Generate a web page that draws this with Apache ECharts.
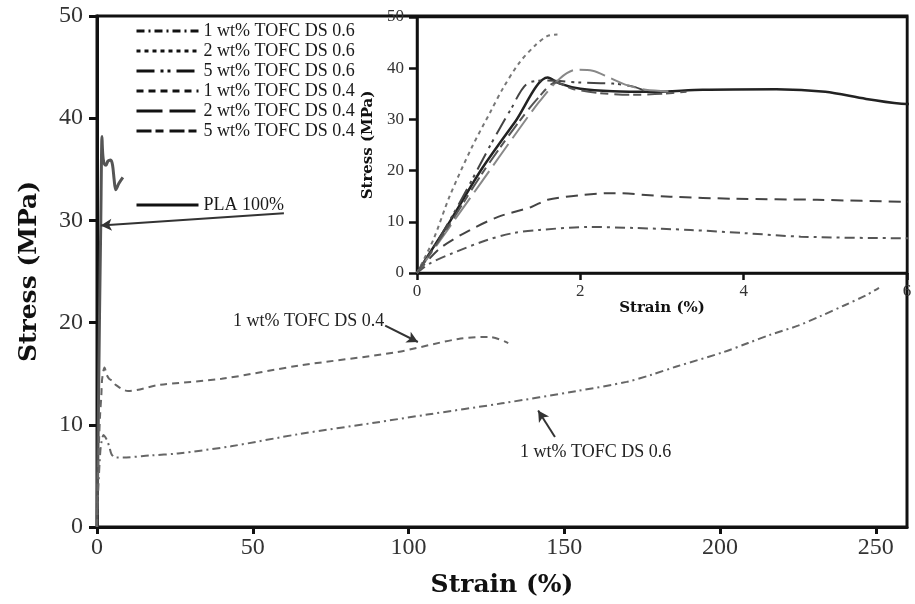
<!DOCTYPE html>
<html>
<head>
<meta charset="utf-8">
<script src="https://cdn.jsdelivr.net/npm/echarts@6/dist/echarts.min.js"></script>
<style>
  html, body { margin: 0; padding: 0; background: #fff; }
  #chart { width: 915px; height: 604px; }
</style>
</head>
<body>
<div id="chart"></div>
<script>
// stress-strain curves, points are [strain %, stress MPa]
const pla100 = [[0,0],[0.2,5],[0.4,10],[0.8,20.5],[1.2,29.5],[1.6,38.2],[1.75,37],[2.0,36],[2.4,35.5],[2.9,35.4],
  [3.5,35.8],[4.4,35.9],[5.0,35.4],[5.5,34],[6.0,33],[7.0,33.6],[8.3,34.2]]
const oneWt06 = [[0,0],[0.16,1.9],[0.44,3.9],[0.85,6.4],[1.18,7.8],[1.5,8.4],[2.1,9.0],[2.65,8.8],[3.35,8.4],[4.0,7.8],
  [4.7,7.1],[6,6.8],[8.3,6.8],[17,7.0],[26,7.2],[43,7.9],[65,9.1],[89,10.2],[106,11],[130,12.1],[154,13.3],[170,14.2],
  [178,14.9],[186,15.7],[201,17.1],[209,18],[216,18.8],[225,19.7],[232,20.6],[240,21.7],[247,22.7],[251,23.4]]
const twoWt06 = [[0,0],[0.2,6.5],[0.4,15],[0.67,24.5],[0.9,31.5],[1.05,36],[1.25,41],[1.45,44.5],[1.6,46.3],[1.72,46.6]]
const fiveWt06 = [[0,0],[0.3,7.5],[0.6,16],[0.9,25],[1.15,32],[1.35,37],[1.6,37.6],[2.0,37.2],[2.4,37],[2.65,36.4],[2.8,35.5]]
const oneWt04 = [[0,0],[0.28,4.8],[0.65,8.4],[1.0,11],[1.4,12.9],[1.6,14.3],[2.0,15.2],[2.4,15.6],[3.1,14.9],[3.9,14.5],
  [4.9,14.3],[6,13.9],[10,13.3],[20,13.9],[40,14.5],[65,15.8],[96,17.1],[116,18.4],[126,18.6],[132,18.0]]
const twoWt04 = [[0,0],[0.4,9],[0.8,18],[1.2,27],[1.5,33.5],[1.75,38],[1.95,39.7],[2.15,39.5],[2.35,38.2],[2.55,36.8],[2.8,35.8],[3.1,35.5]]
const fiveWt04 = [[0,0],[0.4,9.5],[0.8,19.5],[1.2,28.5],[1.5,34.5],[1.7,37.2],[1.9,36],[2.2,35.2],[2.6,34.8],[3.0,35],[3.3,35.4]]

const legendNames = ['1 wt% TOFC DS 0.6','2 wt% TOFC DS 0.6','5 wt% TOFC DS 0.6','1 wt% TOFC DS 0.4','2 wt% TOFC DS 0.4','5 wt% TOFC DS 0.4']
const plaName = 'PLA 100%'

// arrows: [from, to] in main-plot data units
const arrows = [
  [[60,30.7],[1.2,29.5]],
  [[92.5,19.7],[103,18.1]],
  [[147,8.8],[141.6,11.4]],
]

const serif = '"Liberation Serif", "Times New Roman", serif'
const boldSerif = '"DejaVu Serif", serif'

const dashes = {
  '1 wt% TOFC DS 0.6': [10,5,3,5],
  '2 wt% TOFC DS 0.6': [4,4],
  '5 wt% TOFC DS 0.6': [18,6,3,4,3,6],
  '1 wt% TOFC DS 0.4': [12,7],
  '2 wt% TOFC DS 0.4': [26,7],
  '5 wt% TOFC DS 0.4': [15,4,8,6],
}

function line(name, data, grid, color, extra) {
  return Object.assign({
    name, type: 'line', data,
    xAxisIndex: grid, yAxisIndex: grid,
    symbol: 'none', smooth: 0.3, clip: true,
    lineStyle: {color, width: 2, type: dashes[name] || 'solid'},
    itemStyle: {color},
    emphasis: {disabled: true},
  }, extra || {})
}

function axisX(gridIndex, max, interval, fontSize, name, nameSize, nameGap, lw, margin) {
  return {
    type: 'value', gridIndex, min: 0, max, interval,
    name, nameLocation: 'middle', nameGap,
    nameTextStyle: {fontFamily: boldSerif, fontWeight: 'bold', fontSize: nameSize, color: '#111'},
    axisLine: {show: true, onZero: false, lineStyle: {color: '#111', width: lw}},
    axisTick: {show: true, inside: false, length: 7, lineStyle: {color: '#111', width: lw}},
    axisLabel: {fontFamily: serif, fontSize, color: '#333', margin, showMaxLabel: max % interval === 0},
    splitLine: {show: false},
  }
}
function axisY(gridIndex, fontSize, name, nameSize, nameGap, lw, margin) {
  return {
    type: 'value', gridIndex, min: 0, max: 50, interval: 10,
    name, nameLocation: 'middle', nameGap,
    nameTextStyle: {fontFamily: boldSerif, fontWeight: 'bold', fontSize: nameSize, color: '#111'},
    axisLine: {show: true, onZero: false, lineStyle: {color: '#111', width: lw}},
    axisTick: {show: true, inside: false, length: 8, lineStyle: {color: '#111', width: lw}},
    axisLabel: {fontFamily: serif, fontSize, color: '#333', margin},
    splitLine: {show: false},
  }
}

const legendBase = {
  orient: 'vertical', left: 135, padding: 0,
  itemWidth: 62, itemHeight: 14, itemGap: 2,
  itemStyle: {opacity: 0},
  lineStyle: {color: '#111', width: 3},
  textStyle: {fontFamily: serif, fontSize: 18, color: '#1a1a1a', lineHeight: 18},
  selectedMode: false,
}

const chart = echarts.init(document.getElementById('chart'))
chart.setOption({
  animation: false,
  backgroundColor: '#fff',
  grid: [
    {left: 97, right: 8, top: 16, bottom: 77, show: true, borderColor: '#111', borderWidth: 3, backgroundColor: 'transparent'},
    {left: 417, right: 8, top: 17, bottom: 331, show: true, borderColor: '#111', borderWidth: 2.5, backgroundColor: '#fff'},
  ],
  xAxis: [
    axisX(0, 260, 50, 24, 'Strain (%)', 25, 46, 3, 9),
    axisX(1, 6, 2, 17, 'Strain (%)', 15, 22, 2.5, 10),
  ],
  yAxis: [
    axisY(0, 24, 'Stress (MPa)', 25, 55, 3, 14),
    axisY(1, 17, 'Stress (MPa)', 15, 27, 2.5, 13),
  ],
  legend: [
    Object.assign({}, legendBase, {data: legendNames, top: 22}),
    Object.assign({}, legendBase, {data: [plaName], top: 196}),
  ],
  graphic: [
    {type: 'text', left: 233, top: 312, style: {text: '1 wt% TOFC DS 0.4', font: '18px ' + serif, fill: '#222'}},
    {type: 'text', left: 520, top: 443, style: {text: '1 wt% TOFC DS 0.6', font: '18px ' + serif, fill: '#222'}},
  ],
  series: [
    line(plaName, pla100, 0, '#444', {
      lineStyle: {color: '#555', width: 3, type: 'solid'},
      markLine: {
        silent: true, symbol: ['none', 'arrow'], symbolSize: [9, 11],
        lineStyle: {type: 'solid', color: '#333', width: 2},
        label: {show: false},
        data: arrows.map(a => [{coord: a[0]}, {coord: a[1]}]),
      },
    }),
    line('1 wt% TOFC DS 0.4', oneWt04, 0, '#666', {lineStyle: {color: '#666', width: 2, type: [7,5]}}),
    line('1 wt% TOFC DS 0.6', oneWt06, 0, '#666', {lineStyle: {color: '#666', width: 2, type: [8,4,2,4]}}),

    line(plaName, pla100, 1, '#222', {lineStyle: {color: '#222', width: 2.5, type: 'solid'}}),
    line('1 wt% TOFC DS 0.6', oneWt06, 1, '#555'),
    line('2 wt% TOFC DS 0.6', twoWt06, 1, '#777'),
    line('5 wt% TOFC DS 0.6', fiveWt06, 1, '#444'),
    line('1 wt% TOFC DS 0.4', oneWt04, 1, '#444'),
    line('2 wt% TOFC DS 0.4', twoWt04, 1, '#888'),
    line('5 wt% TOFC DS 0.4', fiveWt04, 1, '#555'),
  ],
})
</script>
</body>
</html>
